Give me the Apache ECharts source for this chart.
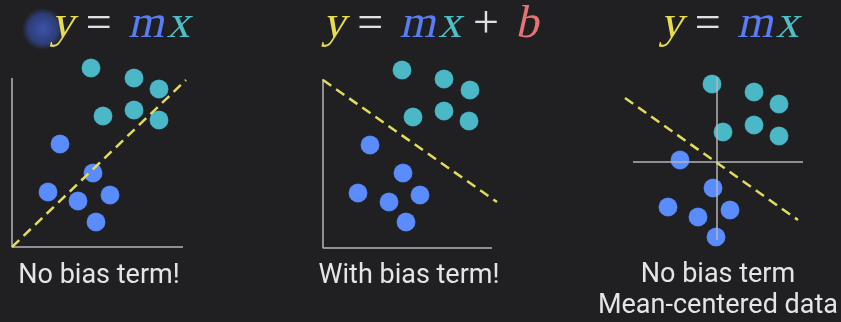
<!DOCTYPE html>
<html>
<head>
<meta charset="utf-8">
<script src="https://cdn.jsdelivr.net/npm/echarts@6/dist/echarts.min.js"></script>
<style>
  html, body { margin: 0; padding: 0; background: #202022; }
  #chart { width: 841px; height: 322px; }
</style>
</head>
<body>
<div id="chart"></div>
<script>
// panel 1: no bias, line through origin
const p1Cyan = [[7.9, 17.9], [12.2, 16.9], [14.7, 15.8], [9.1, 13.1], [12.2, 13.7], [14.7, 12.7]];
const p1Blue = [[4.8, 10.3], [8.1, 7.4], [3.6, 5.5], [6.6, 4.6], [9.8, 5.2], [8.4, 2.5]];
const p1Fit = [[0, 0], [17.4, 16.7]];
const p1Axes = [[0, 16.9], [0, 0], [17.1, 0]];

// panel 2: with bias term
const p2Cyan = [[7.9, 17.8], [12.1, 16.9], [14.7, 15.8], [9.0, 13.1], [12.1, 13.7], [14.6, 12.7]];
const p2Blue = [[4.7, 10.3], [8.0, 7.5], [3.5, 5.5], [6.6, 4.6], [9.7, 5.3], [8.3, 2.6]];
const p2Fit = [[0, 16.8], [17.4, 4.6]];
const p2Axes = [[0, 16.9], [0, 0], [16.9, 0]];

// panel 3: mean-centered data
const p3Cyan = [[-0.5, 7.8], [3.7, 7.0], [6.2, 5.8], [0.6, 3.0], [3.7, 3.7], [6.2, 2.6]];
const p3Blue = [[-3.7, 0.2], [-0.4, -2.6], [-4.9, -4.5], [-1.9, -5.5], [1.3, -4.8], [-0.1, -7.5]];
const p3Fit = [[-9.2, 6.4], [8.1, -5.8]];
const p3AxisH = [[-8.4, 0], [8.6, 0]];
const p3AxisV = [[0, 8.5], [0, -7.8]];

// equation tokens: [text, colour key]
const eq1 = [["y", "y"], ["=", "op"], ["m", "m"], ["x", "x"]];
const eq2 = [["y", "y"], ["=", "op"], ["m", "m"], ["x", "x"], ["+", "op"], ["b", "b"]];
const eq3 = [["y", "y"], ["=", "op"], ["m", "m"], ["x", "x"]];
const captions = ["No bias term!", "With bias term!", "No bias term\nMean-centered data"];

const BLUE = "#5b8cfd";
const CYAN = "#4bb8c8";
const YELLOW = "#e2dc5c";
const GRAY = "#b4b4ba";
const WHITE = "#e4e4ea";
const EQ_COLORS = { y: "#e6dc4e", op: "#e0e0e6", m: "#5a7cf6", x: "#4cc0c4", b: "#e57373" };
const SERIF = "'Liberation Serif', 'Times New Roman', 'DejaVu Serif', serif";
const EQ_SIZE = 46;

const chart = echarts.init(document.getElementById("chart"), null, { renderer: "canvas" });

function dots(data, color, idx) {
  return {
    type: "scatter", xAxisIndex: idx, yAxisIndex: idx, data: data,
    symbolSize: 19, clip: false, silent: true,
    itemStyle: { color: color, opacity: 1, borderColor: "rgba(0,0,0,0.15)", borderWidth: 1 },
  };
}
function line(data, idx, dashed) {
  return {
    type: "line", xAxisIndex: idx, yAxisIndex: idx, data: data,
    symbol: "none", clip: false, silent: true,
    lineStyle: dashed
      ? { color: YELLOW, width: 2.5, type: [10, 6] }
      : { color: GRAY, width: 1.5 },
  };
}

// the italic serif face does not resolve here, so variables are upright serif
// with a slant applied through skewX
const measure = document.createElement("canvas").getContext("2d");
measure.font = EQ_SIZE + "px " + SERIF;
function equation(cx, tokens) {
  const parts = tokens.map(([t, k]) => ({ t, k, w: measure.measureText(t).width }));
  const gapAfter = (i) => (i === parts.length - 1 ? 0 :
    (parts[i].k === "op" || parts[i + 1].k === "op") ? 14 : 3);
  let total = 0;
  parts.forEach((p, i) => { total += p.w + gapAfter(i); });
  let x = cx - total / 2;
  return parts.map((p, i) => {
    const el = {
      type: "text", x: x, y: 48, silent: true,
      skewX: p.k === "op" ? 0 : -0.22,
      style: {
        text: p.t, fontFamily: SERIF, fontSize: EQ_SIZE, fontStyle: "normal",
        fill: EQ_COLORS[p.k], verticalAlign: "bottom",
      },
    };
    x += p.w + gapAfter(i);
    return el;
  });
}
function caption(x, y, str) {
  return {
    type: "text", x: x, y: y, silent: true,
    style: { text: str, font: "27px Roboto", fill: WHITE, align: "center", verticalAlign: "middle", lineHeight: 31 },
  };
}

const option = {
  backgroundColor: "#202022",
  animation: false,
  grid: [
    { left: 12, top: 57, width: 180, height: 190 },
    { left: 323, top: 58, width: 180, height: 190 },
    { left: 617, top: 72, width: 200, height: 180 },
  ],
  xAxis: [
    { type: "value", gridIndex: 0, min: 0, max: 18, show: false },
    { type: "value", gridIndex: 1, min: 0, max: 18, show: false },
    { type: "value", gridIndex: 2, min: -10, max: 10, show: false },
  ],
  yAxis: [
    { type: "value", gridIndex: 0, min: 0, max: 19, show: false },
    { type: "value", gridIndex: 1, min: 0, max: 19, show: false },
    { type: "value", gridIndex: 2, min: -9, max: 9, show: false },
  ],
  graphic: [
    {
      type: "circle", shape: { cx: 43, cy: 29, r: 21 }, silent: true,
      style: {
        fill: new echarts.graphic.RadialGradient(0.5, 0.5, 0.5, [
          { offset: 0, color: "rgba(70,100,220,0.75)" },
          { offset: 0.7, color: "rgba(60,90,200,0.5)" },
          { offset: 1, color: "rgba(60,90,200,0)" },
        ]),
      },
    },
    ...equation(118, eq1),
    ...equation(428, eq2),
    ...equation(727, eq3),
    caption(99, 276, captions[0]),
    caption(409, 276, captions[1]),
    caption(718, 291, captions[2]),
  ],
  series: [
    line(p1Axes, 0, false),
    dots(p1Cyan, CYAN, 0),
    dots(p1Blue, BLUE, 0),
    line(p1Fit, 0, true),

    line(p2Axes, 1, false),
    dots(p2Cyan, CYAN, 1),
    dots(p2Blue, BLUE, 1),
    line(p2Fit, 1, true),

    line(p3AxisH, 2, false),
    line(p3AxisV, 2, false),
    dots(p3Cyan, CYAN, 2),
    dots(p3Blue, BLUE, 2),
    line(p3Fit, 2, true),
  ],
};

chart.setOption(option);
</script>
</body>
</html>
